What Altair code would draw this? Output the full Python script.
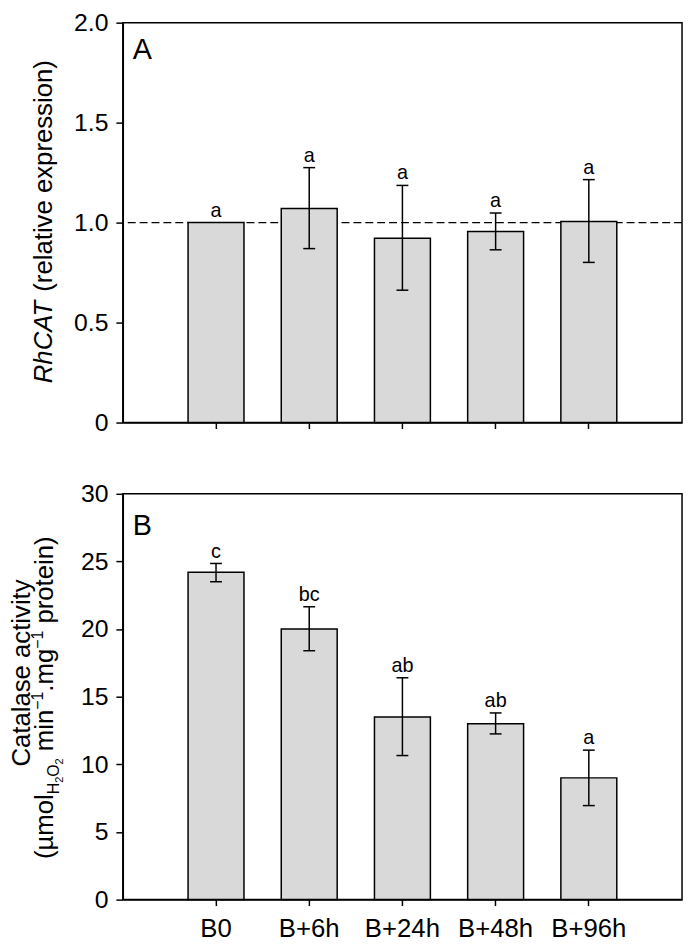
import altair as alt
import pandas as pd

FONT = "Liberation Sans"

# ---------------- data ----------------
groups = ["B0", "B+6h", "B+24h", "B+48h", "B+96h"]

rhcat_mean = [1.0, 1.07, 0.922, 0.955, 1.006]
rhcat_low = [None, 0.870, 0.662, 0.864, 0.801]
rhcat_high = [None, 1.275, 1.186, 1.048, 1.215]
rhcat_letters = ["a", "a", "a", "a", "a"]

cat_mean = [24.2, 20.0, 13.5, 13.0, 9.0]
cat_low = [23.5, 18.4, 10.65, 12.25, 6.95]
cat_high = [24.85, 21.65, 16.4, 13.8, 11.05]
cat_letters = ["c", "bc", "ab", "ab", "a"]

a_ticks = [0, 0.5, 1.0, 1.5, 2.0]
b_ticks = [0, 5, 10, 15, 20, 25, 30]
ref_level = [1.0]

# ---------------- helpers ----------------
W = {'(': 333, ')': 333, 'µ': 576, 'm': 833, 'o': 556, 'l': 222, 'H': 722, '2': 556,
     'O': 778, ' ': 278, 'i': 222, 'n': 556, '−': 584, '1': 556, '.': 278, 'g': 556,
     'p': 556, 'r': 333, 't': 278, 'e': 556, 'C': 722, 'a': 556, 's': 500, 'c': 500,
     'v': 500, 'y': 500, 'R': 722, 'h': 556, 'A': 667, 'T': 611, 'x': 500}


def tw(s, size):
    return sum(W.get(c, 556) for c in s) * size / 1000.0


one = pd.DataFrame({"k": [0]})


def rotated_line(frags, base_x, center_y):
    """frags: list of (text, size, shift, style). Returns list of layers."""
    total = sum(tw(t, s) for t, s, _, _ in frags)
    start = center_y + total / 2.0
    cum = 0.0
    layers = []
    for t, s, sh, st in frags:
        stripped = t.lstrip()
        lead = tw(t[: len(t) - len(stripped)], s)
        y = start - cum - lead
        layers.append(
            alt.Chart(one)
            .mark_text(angle=270, align="left", baseline="alphabetic", fontSize=s,
                       font=FONT, fontStyle=st, color="black")
            .encode(x=alt.value(base_x + sh), y=alt.value(y), text=alt.value(stripped))
        )
        cum += tw(t, s)
    return layers


def make_df(mean, low, high, letters):
    df = pd.DataFrame({"group": groups, "val": mean, "low": low, "high": high,
                       "letter": letters})
    df["top"] = df["high"].fillna(df["val"])
    return df


def panel(df, ymax, ticks, label_expr, height, plabel, plabel_y, show_labels,
          title_layers, ref=False):
    xs = alt.Scale(paddingInner=0.4, paddingOuter=0.7)
    x_axis = alt.X("group:N", sort=groups, scale=xs,
                   axis=alt.Axis(title=None, labels=show_labels, labelAngle=0,
                                 labelFontSize=26, labelPadding=10, tickSize=6))
    x_plain = alt.X("group:N", sort=groups, scale=xs)
    ys = alt.Scale(domain=[0, ymax], nice=False, zero=True)
    y_axis = alt.Y("val:Q", scale=ys,
                   axis=alt.Axis(title=None, values=ticks, labelExpr=label_expr,
                                 tickSize=7, labelPadding=8, labelFontSize=25))
    base = alt.Chart(df)
    layers = []
    if ref:
        layers.append(
            alt.Chart(pd.DataFrame({"ref": ref_level}))
            .mark_rule(color="black", strokeWidth=1.3, strokeDash=[8, 4])
            .encode(y=alt.Y("ref:Q", scale=ys))
        )
    layers.append(
        base.mark_bar(fill="#d9d9d9", stroke="black", strokeWidth=1.5)
        .encode(x=x_axis, y=y_axis)
    )
    err = base.transform_filter("isValid(datum.low)")
    layers.append(
        err.mark_rule(color="black", strokeWidth=1.5)
        .encode(x=x_plain, y=alt.Y("low:Q", scale=ys), y2="high:Q")
    )
    layers.append(
        err.mark_tick(color="black", size=12, thickness=1.5, opacity=1)
        .encode(x=x_plain, y=alt.Y("low:Q", scale=ys))
    )
    layers.append(
        err.mark_tick(color="black", size=12, thickness=1.5, opacity=1)
        .encode(x=x_plain, y=alt.Y("high:Q", scale=ys))
    )
    layers.append(
        base.mark_text(baseline="alphabetic", dy=-6, fontSize=20, font=FONT, color="black")
        .encode(x=x_plain, y=alt.Y("top:Q", scale=ys), text="letter:N")
    )
    layers.append(
        alt.Chart(one)
        .mark_text(align="left", baseline="alphabetic", fontSize=29, font=FONT, color="black")
        .encode(x=alt.value(10), y=alt.value(plabel_y), text=alt.value(plabel))
    )
    layers += title_layers
    return alt.layer(*layers).properties(width=565, height=height)


# ---------------- titles ----------------
title_a = rotated_line(
    [("RhCAT", 26, 0, "italic"), (" (relative expression)", 26, 0, "normal")],
    -71.5, 201)

title_b1 = rotated_line([("Catalase activity", 26, 0, "normal")], -94, 181)
title_b2 = rotated_line(
    [("(µmol", 26, 0, "normal"), ("H", 16, 6, "normal"), ("2", 11, 10, "normal"),
     ("O", 16, 6, "normal"), ("2", 11, 10, "normal"), (" min", 26, 0, "normal"),
     ("−1", 16, -10, "normal"), (".mg", 26, 0, "normal"), ("−1", 16, -10, "normal"),
     (" protein)", 26, 0, "normal")],
    -70.5, 206)

dfa = make_df(rhcat_mean, rhcat_low, rhcat_high, rhcat_letters)
dfb = make_df(cat_mean, cat_low, cat_high, cat_letters)

pa = panel(dfa, 2.0, a_ticks,
           "datum.value == 0 ? '0' : format(datum.value, '.1f')",
           404, "A", 37, False, title_a, ref=True)
pb = panel(dfb, 30, b_ticks, "format(datum.value, 'd')",
           410, "B", 42, True, title_b1 + title_b2)

chart = (
    alt.vconcat(pa, pb, spacing=72, bounds="flush")
    .properties(padding={"left": 0, "top": -3, "right": 1, "bottom": -5},
                background="white")
    .configure_view(stroke="black", strokeWidth=1.5)
    .configure_axis(domainColor="black", domainWidth=1.5, tickColor="black",
                    tickWidth=1.5, labelColor="black", labelFont=FONT, grid=False)
)

chart.save("out.html", embed_options={"renderer": "svg", "actions": False})
